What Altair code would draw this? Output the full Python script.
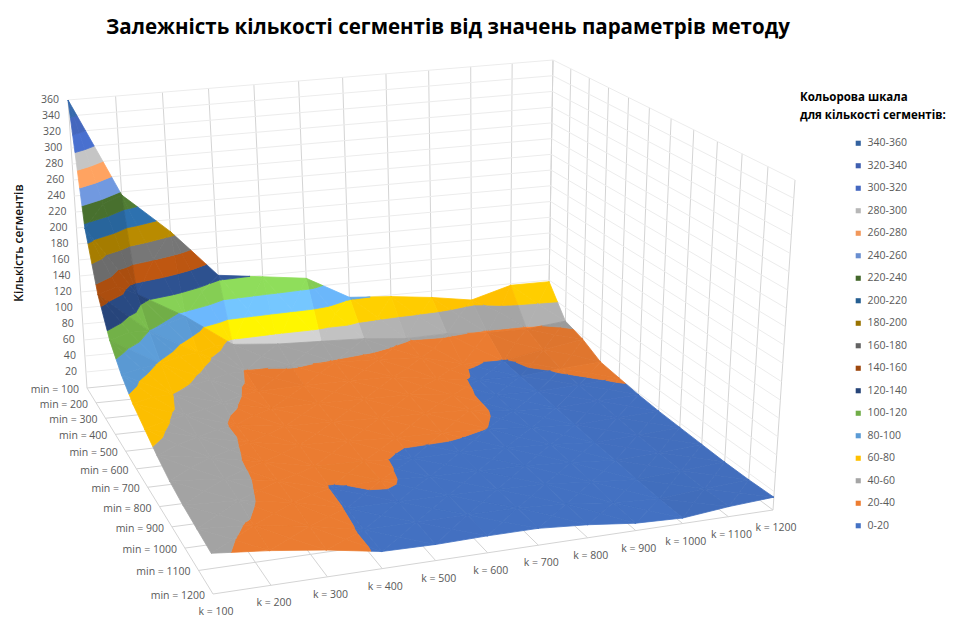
import altair as alt
import numpy as np

# Segment counts along each k column, for min = 100 ... 1200
MINS = [100, 200, 300, 400, 500, 600, 700, 800, 900, 1000, 1100, 1200]
KS = [100, 200, 300, 400, 500, 600, 700, 800, 900, 1000, 1100, 1200]
k100 = [360, 215, 150, 112, 90, 75, 66, 57, 50, 46, 44, 42]
k200 = [236, 128, 100, 78, 60, 55, 50, 47, 45, 43, 39, 36]
k300 = [185, 95, 68, 53, 44, 37, 37, 35, 35, 33, 30, 28]
k400 = [125, 55, 39, 33, 31, 29, 27, 23, 19.5, 19, 18, 18]
k500 = [118, 50, 41, 34, 31, 28, 25, 22, 21, 18.5, 18, 17]
k600 = [111, 48, 39, 34, 30, 26, 22, 18, 18, 18, 18, 18]
k700 = [82, 46, 37, 33, 29, 25, 21.5, 18, 17, 17, 18, 18]
k800 = [78, 41, 34, 25, 23, 23, 20, 17, 16, 16, 15, 14]
k900 = [72, 42, 21, 18, 17, 16, 15, 14, 13, 11, 9, 8]
k1000 = [64, 38, 19, 17, 16, 14, 12, 10, 9, 7, 6, 6]
k1100 = [78, 38, 28, 21, 18, 16, 14, 12, 11, 10, 10, 11]
k1200 = [78, 43, 36, 24, 21, 18, 16, 15, 14, 13, 13, 14]
COLUMNS = [k100, k200, k300, k400, k500, k600, k700, k800, k900, k1000, k1100, k1200]

BANDS = [340, 320, 300, 280, 260, 240, 220, 200, 180, 160, 140, 120, 100, 80, 60, 40, 20, 0]
BAND_COLORS = ["#33629f", "#3f5fb0", "#4468c0", "#b7b7b7", "#f1975a", "#698ed0",
               "#43682b", "#255e91", "#997300", "#636363", "#9e480e", "#264478",
               "#70ad47", "#5b9bd5", "#ffc000", "#a5a5a5", "#ed7d31", "#4472c4"]
BAND_LABELS = [f"{b}-{b + 20}" for b in BANDS]
Z_TICKS = list(range(20, 361, 20))
Z_MAX = 360

# Box corners on the page: order is (k low, min low), (k high, min low), (k high, min high), (k low, min high)
FLOOR_CORNERS = [(87, 388), (548, 343), (773, 510), (213, 594)]
CEILING_CORNERS = [(68, 100), (553, 60), (795, 180), (198, 245)]


def homography(corners):
    src = [(0, 0), (1, 0), (1, 1), (0, 1)]
    a, b = [], []
    for (u, v), (x, y) in zip(src, corners):
        a.append([u, v, 1, 0, 0, 0, -u * x, -v * x])
        a.append([0, 0, 0, u, v, 1, -u * y, -v * y])
        b += [x, y]
    return np.append(np.linalg.solve(np.array(a, float), np.array(b, float)), 1).reshape(3, 3)


H_FLOOR = homography(FLOOR_CORNERS)
H_CEIL = homography(CEILING_CORNERS)


def apply(h, u, v):
    p = h @ np.array([u, v, 1.0])
    return p[:2] / p[2]


def project(u, v, z):
    f, c = apply(H_FLOOR, u, v), apply(H_CEIL, u, v)
    pt = f + (c - f) * z / Z_MAX
    return [round(float(pt[0]), 2), round(float(pt[1]), 2)]


def clip(poly, level, keep_above):
    out = []
    for i, a in enumerate(poly):
        b = poly[(i + 1) % len(poly)]
        ina = a[2] >= level if keep_above else a[2] <= level
        inb = b[2] >= level if keep_above else b[2] <= level
        if ina:
            out.append(a)
        if ina != inb:
            t = (level - a[2]) / (b[2] - a[2])
            out.append(tuple(a[j] + (b[j] - a[j]) * t for j in range(3)))
    return out


def shaded(hex_color, factor):
    rgb = [int(hex_color[i:i + 2], 16) for i in (1, 3, 5)]
    return "#" + "".join(f"{min(255, int(round(c * factor))):02x}" for c in rgb)


def cell_light(gx, gy):
    # Faces dropping towards the viewer catch the light; faces rising with k fall into shade
    steep = float(np.clip((-gy - 25) / 35, 0, 1))
    across = 1 - float(np.clip(abs(gx) / 150, 0, 1))
    return 0.99 + 0.3 * steep * across - min(0.12, 0.008 * max(gx, 0))


n = len(KS) - 1
surface = []
# Cells are painted from the far corner towards the near one
for iv in range(n):
    for iu in range(n - 1, -1, -1):
        u0, u1, v0, v1 = iu / n, (iu + 1) / n, iv / n, (iv + 1) / n
        a = (u0, v0, COLUMNS[iu][iv])
        b = (u1, v0, COLUMNS[iu + 1][iv])
        c = (u1, v1, COLUMNS[iu + 1][iv + 1])
        d = (u0, v1, COLUMNS[iu][iv + 1])
        mid = (0.5 * (u0 + u1), 0.5 * (v0 + v1), (a[2] + b[2] + c[2] + d[2]) / 4)
        gx = 0.5 * (b[2] + c[2] - a[2] - d[2])
        gy = 0.5 * (c[2] + d[2] - a[2] - b[2])
        factor = cell_light(gx, gy)
        for tri in ((a, b, mid), (b, c, mid), (d, a, mid), (c, d, mid)):
            for lo, base in zip(BANDS[::-1], BAND_COLORS[::-1]):
                poly = clip(list(tri), lo, True)
                if poly:
                    poly = clip(poly, lo + 20, False)
                if len(poly) < 3:
                    continue
                ring = [project(*p) for p in poly]
                ring.append(ring[0])
                surface.append({"type": "Feature",
                                "geometry": {"type": "Polygon", "coordinates": [ring]},
                                "properties": {"fill": shaded(base, factor)}})


def line_feature(points, color):
    return {"type": "Feature",
            "geometry": {"type": "LineString", "coordinates": points},
            "properties": {"stroke": color}}


VERTICAL = "#d4d4d4"
HORIZONTAL = "#ececec"
grid = []
steps = [i / n for i in range(n + 1)]
for s in steps:
    grid.append(line_feature([project(s, 0, 0), project(s, 0, Z_MAX)], VERTICAL))
    grid.append(line_feature([project(1, s, 0), project(1, s, Z_MAX)], VERTICAL))
    grid.append(line_feature([project(s, 0, 0), project(s, 1, 0)], VERTICAL))
    grid.append(line_feature([project(0, s, 0), project(1, s, 0)], VERTICAL))
for z in Z_TICKS:
    grid.append(line_feature([project(0, 0, z), project(1, 0, z), project(1, 1, z)], HORIZONTAL))

texts = []
for z in Z_TICKS:
    x, y = project(0, 0, z)
    texts.append({"x": x - 9, "y": y, "t": str(z), "a": "right"})
for i, m in enumerate(MINS):
    x, y = project(0, i / n, 0)
    texts.append({"x": x - 8, "y": y + 2, "t": f"min = {m}", "a": "right"})
for i, k in enumerate(KS):
    x, y = project(i / n, 1, 0)
    texts.append({"x": x + 3, "y": y + 18, "t": f"k = {k}", "a": "center"})

x_page = alt.X("x:Q", scale=alt.Scale(domain=[0, 955]), axis=None)
y_page = alt.Y("y:Q", scale=alt.Scale(domain=[0, 620], reverse=True), axis=None)
FONT = "Open Sans"
identity = dict(type="identity", scale=1, translate=[0, 0])

grid_layer = (alt.Chart(alt.Data(values=grid))
              .mark_geoshape(filled=False, strokeWidth=1)
              .encode(stroke=alt.Stroke("properties.stroke:N", scale=None))
              .project(**identity))

surface_layer = (alt.Chart(alt.Data(values=surface))
                 .mark_geoshape(strokeWidth=0.8)
                 .encode(fill=alt.Fill("properties.fill:N", scale=None),
                         stroke=alt.Stroke("properties.fill:N", scale=None))
                 .project(**identity))

axis_text = (alt.Chart(alt.Data(values=[t for t in texts if t["a"] == "right"]))
             .mark_text(font=FONT, fontSize=10.5, color="#595959", align="right", baseline="middle")
             .encode(x=x_page, y=y_page, text="t:N"))
k_text = (alt.Chart(alt.Data(values=[t for t in texts if t["a"] == "center"]))
          .mark_text(font=FONT, fontSize=10.5, color="#595959", align="center", baseline="middle")
          .encode(x=x_page, y=y_page, text="t:N"))

headings = [
    {"x": 448, "y": 28, "t": "Залежність кількості сегментів від значень параметрів методу"},
]
title_text = (alt.Chart(alt.Data(values=headings))
              .mark_text(font=FONT, fontSize=20.5, fontWeight="bold", color="#000000",
                         align="center", baseline="middle")
              .encode(x=x_page, y=y_page, text="t:N"))

axis_title = (alt.Chart(alt.Data(values=[{"x": 19, "y": 243, "t": "Кількість сегментів"}]))
              .mark_text(font=FONT, fontSize=12, fontWeight=600, color="#111111",
                         align="center", baseline="middle", angle=270)
              .encode(x=x_page, y=y_page, text="t:N"))

legend_heading = (alt.Chart(alt.Data(values=[
    {"x": 800, "y": 98, "t": "Кольорова шкала"},
    {"x": 800, "y": 116, "t": "для кількості сегментів:"}]))
    .mark_text(font=FONT, fontSize=11.5, fontWeight="bold", color="#000000",
               align="left", baseline="middle")
    .encode(x=x_page, y=y_page, text="t:N"))

legend_layer = (alt.Chart(alt.Data(values=[{"band": b} for b in BAND_LABELS]))
                .mark_square(opacity=0)
                .encode(color=alt.Color("band:N",
                                        scale=alt.Scale(domain=BAND_LABELS, range=BAND_COLORS),
                                        sort=None,
                                        legend=alt.Legend(title=None, orient="none",
                                                          legendX=853, legendY=138,
                                                          symbolType="square", symbolSize=26,
                                                          symbolOpacity=1, symbolStrokeWidth=0,
                                                          labelFont=FONT, labelFontSize=10.5,
                                                          labelColor="#595959", labelOffset=4,
                                                          rowPadding=11.5, values=BAND_LABELS))))

chart = (alt.layer(grid_layer, surface_layer, axis_text, k_text, title_text,
                   axis_title, legend_heading, legend_layer)
         .properties(width=955, height=620, padding=0,
                     autosize=alt.AutoSizeParams(type="none"), background="white")
         .configure_view(stroke=None))

chart.save("out.html", embed_options={"renderer": "svg", "actions": False})
